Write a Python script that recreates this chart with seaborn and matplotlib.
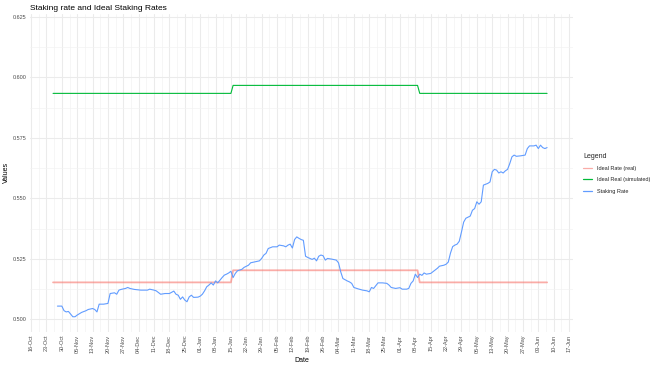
import matplotlib
matplotlib.use("Agg")
import matplotlib.pyplot as plt
import matplotlib.dates as mdates
import seaborn as sns
import numpy as np
import pandas as pd

# ---------------- data ----------------
staking_dates = [
    "2023-10-28", "2023-10-30", "2023-10-31", "2023-11-01", "2023-11-02", "2023-11-03", "2023-11-04",
    "2023-11-05", "2023-11-06", "2023-11-08", "2023-11-10", "2023-11-11", "2023-11-13", "2023-11-14",
    "2023-11-15", "2023-11-16", "2023-11-18", "2023-11-20", "2023-11-21", "2023-11-23", "2023-11-24",
    "2023-11-25", "2023-11-26", "2023-11-28", "2023-11-29", "2023-11-30", "2023-12-02", "2023-12-05",
    "2023-12-08", "2023-12-09", "2023-12-11", "2023-12-12", "2023-12-14", "2023-12-16", "2023-12-18",
    "2023-12-20", "2023-12-21", "2023-12-22", "2023-12-23", "2023-12-24", "2023-12-25", "2023-12-26",
    "2023-12-27", "2023-12-28", "2023-12-29", "2023-12-31", "2024-01-01", "2024-01-02", "2024-01-03",
    "2024-01-04", "2024-01-05", "2024-01-06", "2024-01-07", "2024-01-08", "2024-01-09", "2024-01-11",
    "2024-01-12", "2024-01-13", "2024-01-14", "2024-01-15", "2024-01-16", "2024-01-17", "2024-01-18",
    "2024-01-20", "2024-01-21", "2024-01-23", "2024-01-24", "2024-01-26", "2024-01-28", "2024-01-29",
    "2024-01-30", "2024-01-31", "2024-02-01", "2024-02-03", "2024-02-05", "2024-02-06", "2024-02-08",
    "2024-02-09", "2024-02-10", "2024-02-11", "2024-02-12", "2024-02-13", "2024-02-14", "2024-02-15",
    "2024-02-16", "2024-02-17", "2024-02-18", "2024-02-19", "2024-02-20", "2024-02-21", "2024-02-22",
    "2024-02-23", "2024-02-24", "2024-02-25", "2024-02-26", "2024-02-27", "2024-02-28", "2024-03-01",
    "2024-03-03", "2024-03-04", "2024-03-05", "2024-03-06", "2024-03-08", "2024-03-09", "2024-03-10",
    "2024-03-11", "2024-03-13", "2024-03-15", "2024-03-17", "2024-03-18", "2024-03-19", "2024-03-20",
    "2024-03-22", "2024-03-24", "2024-03-26", "2024-03-27", "2024-03-28", "2024-03-30", "2024-04-01",
    "2024-04-02", "2024-04-04", "2024-04-05", "2024-04-06", "2024-04-07", "2024-04-08", "2024-04-09",
    "2024-04-10", "2024-04-11", "2024-04-12", "2024-04-13", "2024-04-15", "2024-04-16", "2024-04-18",
    "2024-04-19", "2024-04-21", "2024-04-22", "2024-04-23", "2024-04-24", "2024-04-25", "2024-04-26",
    "2024-04-27", "2024-04-28", "2024-04-29", "2024-04-30", "2024-05-01", "2024-05-03", "2024-05-04",
    "2024-05-05", "2024-05-06", "2024-05-07", "2024-05-08", "2024-05-09", "2024-05-11", "2024-05-12",
    "2024-05-13", "2024-05-14", "2024-05-15", "2024-05-16", "2024-05-17", "2024-05-18", "2024-05-19",
    "2024-05-20", "2024-05-21", "2024-05-22", "2024-05-23", "2024-05-24", "2024-05-26", "2024-05-28",
    "2024-05-29", "2024-05-30", "2024-06-01", "2024-06-02", "2024-06-03", "2024-06-04", "2024-06-05",
    "2024-06-06", "2024-06-07",
]
staking_rate = [
    0.5055, 0.5055, 0.5036, 0.5031, 0.5033, 0.5022, 0.5011,
    0.5011, 0.5018, 0.5029, 0.5036, 0.5041, 0.5045, 0.5041,
    0.5031, 0.5063, 0.5063, 0.5066, 0.5107, 0.5110, 0.5104,
    0.5121, 0.5124, 0.5128, 0.5132, 0.5128, 0.5124, 0.5121,
    0.5121, 0.5125, 0.5121, 0.5118, 0.5104, 0.5107, 0.5107,
    0.5117, 0.5104, 0.5100, 0.5083, 0.5093, 0.5080, 0.5073,
    0.5093, 0.5100, 0.5091, 0.5092, 0.5096, 0.5104, 0.5118,
    0.5135, 0.5142, 0.5151, 0.5142, 0.5159, 0.5151, 0.5173,
    0.5183, 0.5187, 0.5192, 0.5199, 0.5173, 0.5190, 0.5201,
    0.5207, 0.5215, 0.5224, 0.5234, 0.5238, 0.5242, 0.5252,
    0.5266, 0.5273, 0.5293, 0.5300, 0.5300, 0.5307, 0.5304,
    0.5300, 0.5307, 0.5311, 0.5295, 0.5330, 0.5341, 0.5335,
    0.5330, 0.5327, 0.5261, 0.5256, 0.5252, 0.5248, 0.5253,
    0.5242, 0.5261, 0.5266, 0.5263, 0.5245, 0.5252, 0.5249,
    0.5245, 0.5234, 0.5197, 0.5169, 0.5159, 0.5155, 0.5149,
    0.5132, 0.5126, 0.5121, 0.5118, 0.5114, 0.5132, 0.5128,
    0.5151, 0.5151, 0.5149, 0.5142, 0.5132, 0.5128, 0.5131,
    0.5125, 0.5125, 0.5128, 0.5149, 0.5159, 0.5187, 0.5173,
    0.5187, 0.5182, 0.5192, 0.5187, 0.5190, 0.5197, 0.5211,
    0.5220, 0.5224, 0.5228, 0.5237, 0.5274, 0.5301, 0.5307,
    0.5311, 0.5323, 0.5361, 0.5402, 0.5418, 0.5427, 0.5451,
    0.5458, 0.5486, 0.5476, 0.5486, 0.5555, 0.5562, 0.5568,
    0.5610, 0.5620, 0.5617, 0.5605, 0.5610, 0.5605, 0.5614,
    0.5620, 0.5644, 0.5672, 0.5679, 0.5674, 0.5676, 0.5679,
    0.5706, 0.5717, 0.5717, 0.5720, 0.5706, 0.5720, 0.5710,
    0.5706, 0.5710,
]

# step series (ideal rates): segment start dates, end date, levels
segment_starts = ["2023-10-26", "2024-01-16", "2024-04-10"]
series_end = "2024-06-07"
ideal_real_levels = [0.5153, 0.5203, 0.5153]
ideal_sim_levels = [0.5934, 0.5967, 0.5934]

series_names = ["Ideal Rate (real)", "Ideal Real (simulated)", "Staking Rate"]
series_colors = ["#F8766D", "#00BA38", "#619CFF"]

tick_start = "2023-10-16"
tick_end = "2024-06-17"
y_ticks = [0.500, 0.525, 0.550, 0.575, 0.600, 0.625]

# --------------- build frames ---------------
days = pd.date_range(segment_starts[0], series_end, freq="D")
starts = pd.to_datetime(segment_starts)
idx = np.searchsorted(starts.values, days.values, side="right") - 1
real_vals = np.array(ideal_real_levels)[idx]
sim_vals = np.array(ideal_sim_levels)[idx]

df = pd.concat([
    pd.DataFrame({"Date": days, "Values": real_vals, "Legend": series_names[0]}),
    pd.DataFrame({"Date": days, "Values": sim_vals, "Legend": series_names[1]}),
    pd.DataFrame({"Date": pd.to_datetime(staking_dates), "Values": staking_rate,
                  "Legend": series_names[2]}),
])

# --------------- plot ---------------
sns.set_theme(style="white")
plt.rcParams["font.family"] = ["Liberation Sans", "DejaVu Sans"]

fig = plt.figure(figsize=(6.6, 3.68), dpi=100)
ax = fig.add_axes([30 / 660, 1 - 332 / 368, 543 / 660, 318 / 368])

styles = {
    series_names[0]: dict(linewidth=1.3, alpha=0.6),
    series_names[1]: dict(linewidth=0.8, alpha=1.0),
    series_names[2]: dict(linewidth=0.8, alpha=1.0),
}
for name, col in zip(series_names, series_colors):
    sub = df[df["Legend"] == name]
    sns.lineplot(data=sub, x="Date", y="Values", color=col, label=name,
                 ax=ax, estimator=None, **styles[name])

# axes limits
x0 = pd.Timestamp(segment_starts[0]) - pd.Timedelta(days=10.5)
x1 = pd.Timestamp(series_end) + pd.Timedelta(days=11.8)
ax.set_xlim(x0, x1)
ax.set_ylim(0.4948, 0.6262)

major = pd.date_range(tick_start, tick_end, freq="7D")
minor = major[:-1] + pd.Timedelta(hours=84)
ax.set_xticks(major)
ax.set_xticks(minor, minor=True)
ax.xaxis.set_major_formatter(mdates.DateFormatter("%d-%b"))
ax.set_yticks(y_ticks)
ax.set_yticks([(a + b) / 2 for a, b in zip(y_ticks[:-1], y_ticks[1:])], minor=True)
ax.yaxis.set_major_formatter(matplotlib.ticker.FormatStrFormatter("%.3f"))

ax.grid(True, which="major", color="#EBEBEB", linewidth=0.75)
ax.grid(True, which="minor", color="#F2F2F2", linewidth=0.45)
ax.set_axisbelow(True)
for s in ax.spines.values():
    s.set_visible(False)
ax.tick_params(axis="both", which="both", length=0, labelsize=4, labelcolor="#4D4D4D")
ax.tick_params(axis="x", which="major", rotation=90, pad=2)
ax.tick_params(axis="y", which="major", pad=2.5)

ax.set_xlabel("")
ax.set_ylabel("")
fig.text(301.5 / 660, 1 - 361 / 368, "Date", ha="center", va="center", fontsize=5, color="black")
fig.text(6 / 660, 1 - 172 / 368, "Values", ha="center", va="center", rotation=90,
         fontsize=5, color="black")
fig.text(30 / 660, 1 - 9.5 / 368, "Staking rate and Ideal Staking Rates", ha="left",
         va="baseline", fontsize=6, color="black")

leg = ax.legend(title="Legend", loc="upper left", bbox_to_anchor=(583 / 660, 1 - 152.5 / 368),
                bbox_transform=fig.transFigure, frameon=False, fontsize=4, title_fontsize=5,
                handlelength=1.6, handletextpad=0.85, labelspacing=1.15, borderpad=0,
                borderaxespad=0)
leg._legend_box.align = "left"
for h, name in zip(leg.legend_handles, series_names):
    h.set_linewidth(0.9)
    h.set_alpha(styles[name]["alpha"])

fig.savefig("out.png", dpi=100, facecolor="white")
